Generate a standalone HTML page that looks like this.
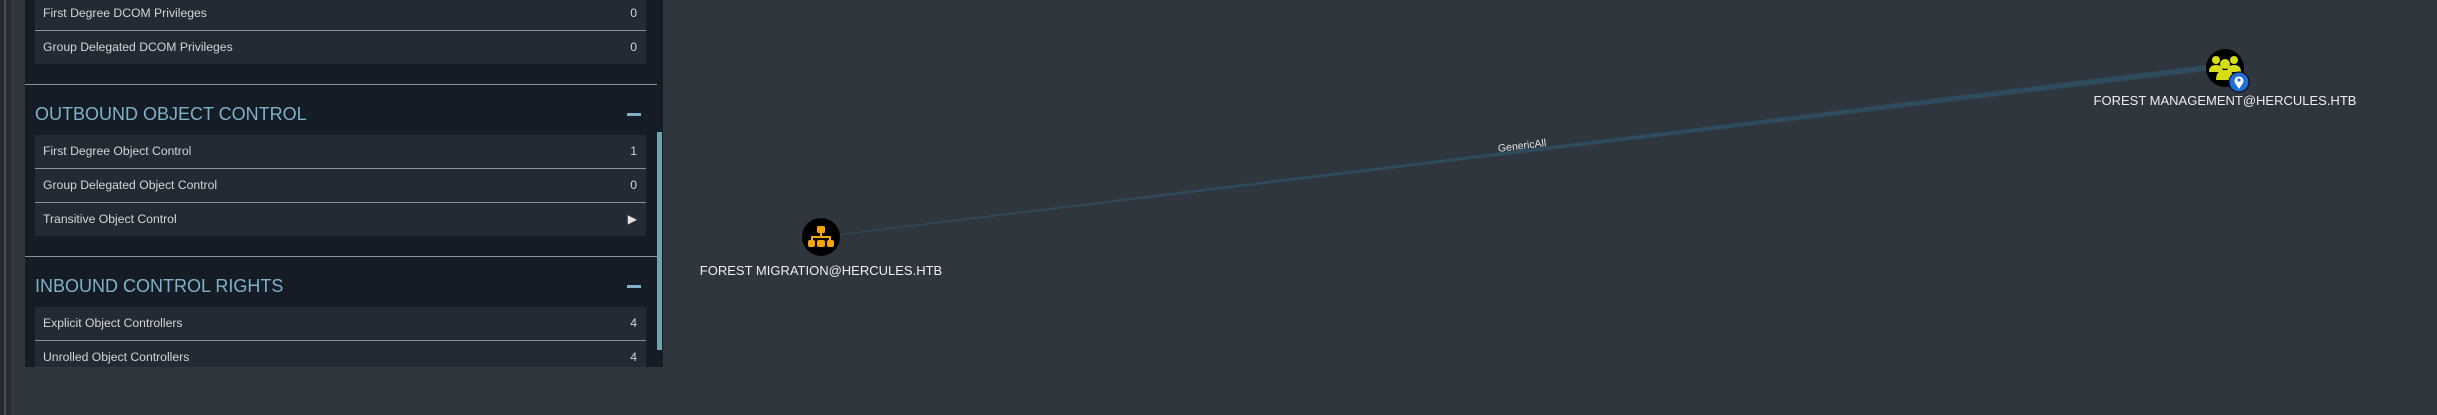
<!DOCTYPE html>
<html><head><meta charset="utf-8"><style>
html,body{margin:0;padding:0;width:2437px;height:415px;overflow:hidden;background:#2f363e;font-family:"Liberation Sans",sans-serif}
.strip{position:absolute;left:0;top:0;width:11px;height:415px;background:#262b31}
.strip:after{content:"";position:absolute;left:4px;top:0;width:2px;height:415px;background:#4a4f55}
.panel{position:absolute;left:25px;top:0;width:638px;height:367px;background:#161c25;overflow:hidden}
.row{position:absolute;left:10px;width:611px;height:33px;background:#232a34;color:#d2d6da;font-size:12.2px;line-height:33px}
.row .t{position:absolute;left:8px}
.row .v{position:absolute;right:9px}
.sep{position:absolute;left:10px;width:611px;height:1px;background:#8a9096}
.div{position:absolute;left:0;width:632px;height:1px;background:#8a9096}
.hdr{position:absolute;left:10px;color:#7eb2c9;font-size:18px;line-height:24px}
.minus{position:absolute;left:602px;width:14px;height:3px;background:#7eb2c9}
.scroll{position:absolute;left:632px;top:132px;width:5px;height:218px;background:#6fa3ad}
.lbl{position:absolute;color:#eceef0;font-size:13px;transform:translateX(-50%);white-space:nowrap}
</style></head><body>
<div class="strip"></div>
<div class="panel">
 <div class="row" style="top:-3px"><span class="t">First Degree DCOM Privileges</span><span class="v">0</span></div>
 <div class="sep" style="top:30px"></div>
 <div class="row" style="top:31px"><span class="t">Group Delegated DCOM Privileges</span><span class="v">0</span></div>
 <div class="div" style="top:84px"></div>
 <div class="hdr" style="top:102px">OUTBOUND OBJECT CONTROL</div>
 <div class="minus" style="top:113px"></div>
 <div class="row" style="top:135px"><span class="t">First Degree Object Control</span><span class="v">1</span></div>
 <div class="sep" style="top:168px"></div>
 <div class="row" style="top:169px"><span class="t">Group Delegated Object Control</span><span class="v">0</span></div>
 <div class="sep" style="top:202px"></div>
 <div class="row" style="top:203px"><span class="t">Transitive Object Control</span><span class="v" style="font-size:12px;color:#e0e0e0">&#9654;</span></div>
 <div class="div" style="top:256px"></div>
 <div class="hdr" style="top:274px">INBOUND CONTROL RIGHTS</div>
 <div class="minus" style="top:285px"></div>
 <div class="row" style="top:307px"><span class="t">Explicit Object Controllers</span><span class="v">4</span></div>
 <div class="sep" style="top:340px"></div>
 <div class="row" style="top:341px"><span class="t">Unrolled Object Controllers</span><span class="v">4</span></div>
 <div class="scroll"></div>
</div>
<svg width="2437" height="415" style="position:absolute;left:0;top:0">
 <polygon points="840,235 840,234 2206,65 2206,71" fill="#2e4b5e"/>
 <text x="1522" y="149" transform="rotate(-6.9 1522 145)" text-anchor="middle" font-family="Liberation Sans,sans-serif" font-size="10.5" fill="#e4e6e8">GenericAll</text>
 <g>
  <circle cx="821" cy="237" r="19" fill="#000"/>
  <g fill="#f5a40a">
   <rect x="817" y="226" width="8" height="7" rx="1.5"/>
   <rect x="820" y="232" width="2" height="5"/>
   <rect x="811" y="236" width="20" height="2"/>
   <rect x="811" y="236" width="2" height="4"/><rect x="829" y="236" width="2" height="4"/>
   <rect x="808" y="240" width="7" height="7" rx="2"/><rect x="817" y="240" width="8" height="7" rx="2"/><rect x="827" y="240" width="7" height="7" rx="2"/>
  </g>
 </g>
 <g>
  <circle cx="2225" cy="68" r="19" fill="#000"/>
  <g fill="#d6dc18">
   <circle cx="2216" cy="60" r="4"/><circle cx="2234" cy="60" r="4"/><circle cx="2225" cy="64" r="5"/>
   <path d="M2209 72 q0-7 7-7 q7 0 7 7z"/><path d="M2227 72 q0-7 7-7 q7 0 7 7z"/>
   <path d="M2216 80 q0-10 9-10 q9 0 9 10z"/>
  </g>
  <circle cx="2239" cy="82" r="10" fill="#1e6fd8" stroke="#000" stroke-width="1"/>
  <path d="M2239 89 l-4-6 a4.5 4.5 0 1 1 8 0z" fill="#fff"/>
  <circle cx="2239" cy="80" r="1.6" fill="#1e6fd8"/>
 </g>
</svg>
<div class="lbl" style="left:821px;top:263px">FOREST MIGRATION@HERCULES.HTB</div>
<div class="lbl" style="left:2225px;top:93px">FOREST MANAGEMENT@HERCULES.HTB</div>
</body></html>
